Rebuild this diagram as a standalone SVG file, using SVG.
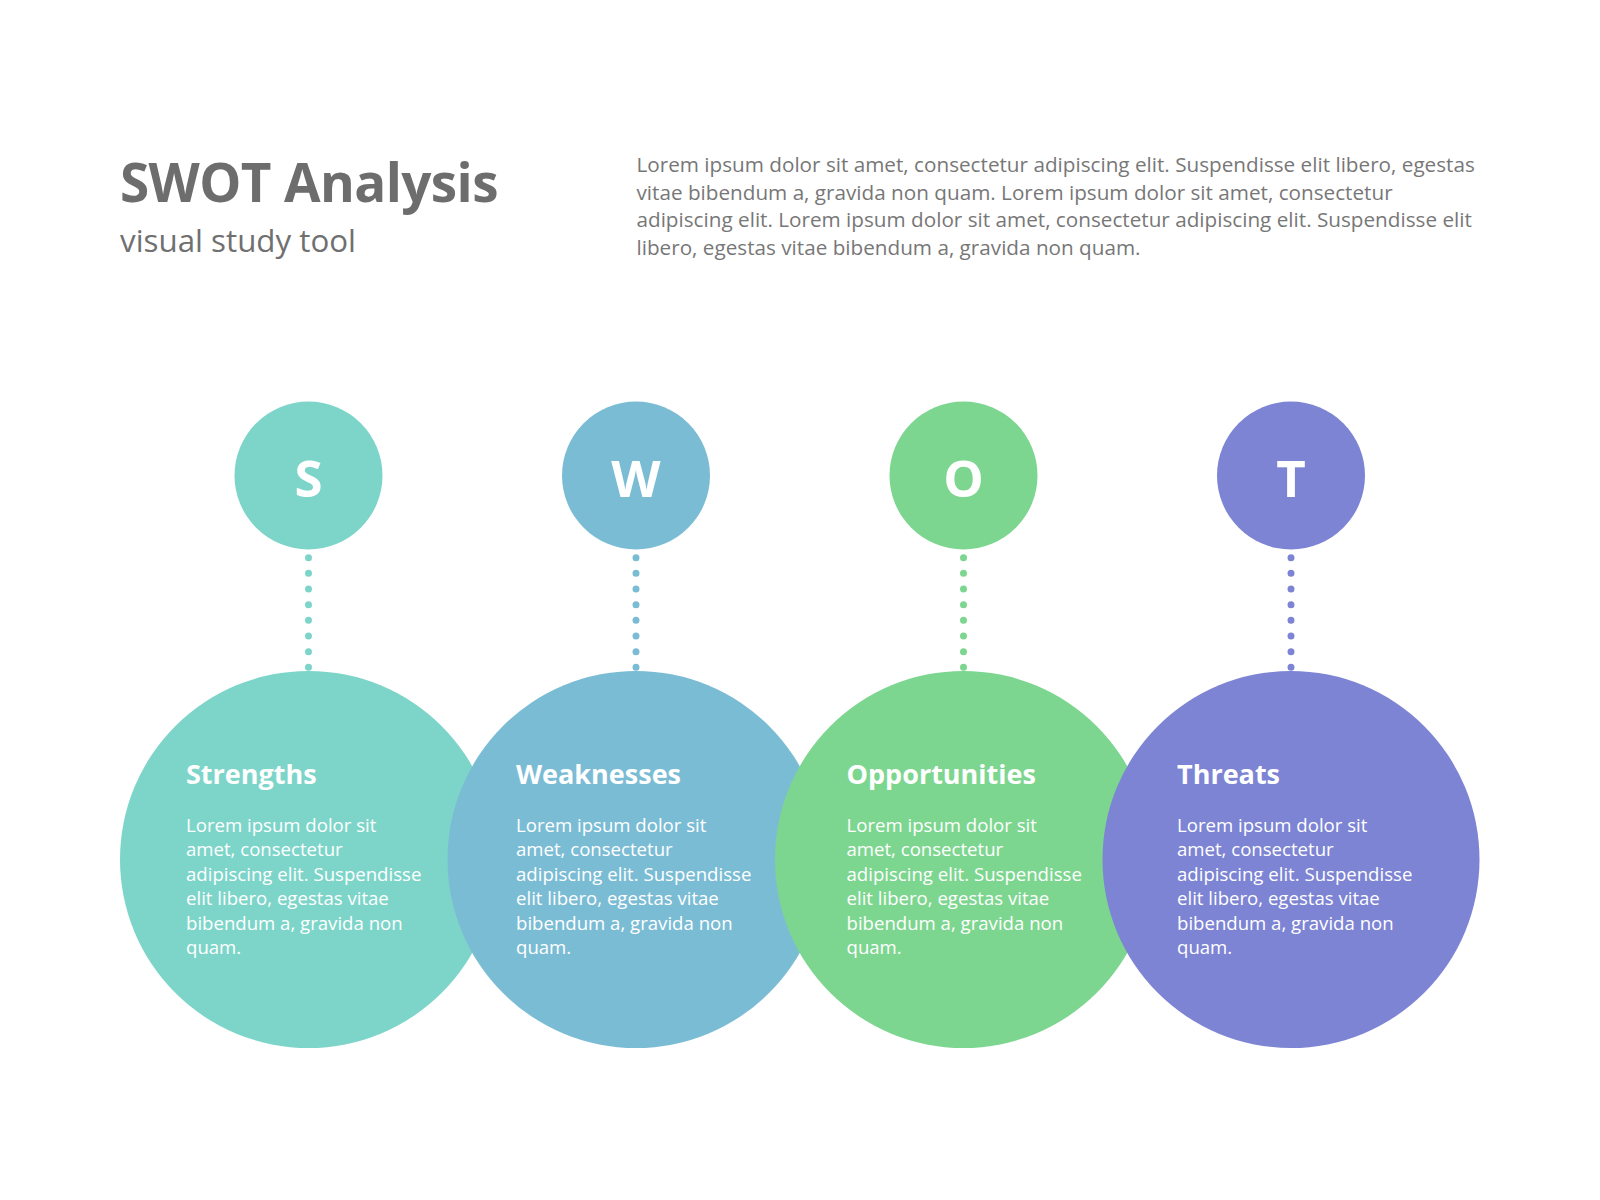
<svg xmlns="http://www.w3.org/2000/svg" width="1600" height="1200" viewBox="0 0 1600 1200">
<style>
.title{font-family:"Open Sans","Liberation Sans",sans-serif;font-weight:700;font-size:53px;letter-spacing:-0.6px;fill:#6d6d6d}
.sub{font-family:"Open Sans","Liberation Sans",sans-serif;font-size:31.3px;fill:#707070}
.para{font-family:"Open Sans","Liberation Sans",sans-serif;font-size:20.7px;fill:#777777}
.letter{font-family:"Open Sans","Liberation Sans",sans-serif;font-weight:700;font-size:51px;fill:#ffffff;text-anchor:middle}
.head{font-family:"Open Sans","Liberation Sans",sans-serif;font-weight:700;font-size:27px;fill:#ffffff}
.body{font-family:"Open Sans","Liberation Sans",sans-serif;font-size:18.6px;fill:#ffffff}
.dots{fill:none;stroke-width:7;stroke-linecap:round;stroke-dasharray:0 15.66}
.s{fill:#7dd5c9}.w{fill:#7bbcd5}.o{fill:#7dd68f}.t{fill:#7d84d4}
</style>
<rect width="1600" height="1200" fill="#ffffff"/>
<g id="header">
<text class="title" x="120" y="201.5">SWOT Analysis</text>
<text class="sub" x="120" y="251.5">visual study tool</text>
<text class="para" x="636.5" y="171.7">Lorem ipsum dolor sit amet, consectetur adipiscing elit. Suspendisse elit libero, egestas</text>
<text class="para" x="636.5" y="199.5">vitae bibendum a, gravida non quam. Lorem ipsum dolor sit amet, consectetur</text>
<text class="para" x="636.5" y="227.3">adipiscing elit. Lorem ipsum dolor sit amet, consectetur adipiscing elit. Suspendisse elit</text>
<text class="para" x="636.5" y="255.1">libero, egestas vitae bibendum a, gravida non quam.</text>
</g>
<g id="connectors">
<line class="dots" x1="308.5" y1="557.7" x2="308.5" y2="668" stroke="#7dd5c9"/>
<line class="dots" x1="636" y1="557.7" x2="636" y2="668" stroke="#7bbcd5"/>
<line class="dots" x1="963.5" y1="557.7" x2="963.5" y2="668" stroke="#7dd68f"/>
<line class="dots" x1="1291" y1="557.7" x2="1291" y2="668" stroke="#7d84d4"/>
</g>
<g id="node-s">
<circle class="s" cx="308.5" cy="475.5" r="74"/>
<text class="letter" x="308.5" y="497">S</text>
<circle class="s" cx="308.5" cy="859.5" r="188.5"/>
<text class="head" x="186" y="784">Strengths</text>
<text class="body" x="186" y="831.7">Lorem ipsum dolor sit</text>
<text class="body" x="186" y="856.2">amet, consectetur</text>
<text class="body" x="186" y="880.7">adipiscing elit. Suspendisse</text>
<text class="body" x="186" y="905.2">elit libero, egestas vitae</text>
<text class="body" x="186" y="929.7">bibendum a, gravida non</text>
<text class="body" x="186" y="954.2">quam.</text>
</g>
<g id="node-w">
<circle class="w" cx="636" cy="475.5" r="74"/>
<text class="letter" x="636" y="497">W</text>
<circle class="w" cx="636" cy="859.5" r="188.5"/>
<text class="head" x="516" y="784">Weaknesses</text>
<text class="body" x="516" y="831.7">Lorem ipsum dolor sit</text>
<text class="body" x="516" y="856.2">amet, consectetur</text>
<text class="body" x="516" y="880.7">adipiscing elit. Suspendisse</text>
<text class="body" x="516" y="905.2">elit libero, egestas vitae</text>
<text class="body" x="516" y="929.7">bibendum a, gravida non</text>
<text class="body" x="516" y="954.2">quam.</text>
</g>
<g id="node-o">
<circle class="o" cx="963.5" cy="475.5" r="74"/>
<text class="letter" x="963.5" y="497">O</text>
<circle class="o" cx="963.5" cy="859.5" r="188.5"/>
<text class="head" x="846.5" y="784">Opportunities</text>
<text class="body" x="846.5" y="831.7">Lorem ipsum dolor sit</text>
<text class="body" x="846.5" y="856.2">amet, consectetur</text>
<text class="body" x="846.5" y="880.7">adipiscing elit. Suspendisse</text>
<text class="body" x="846.5" y="905.2">elit libero, egestas vitae</text>
<text class="body" x="846.5" y="929.7">bibendum a, gravida non</text>
<text class="body" x="846.5" y="954.2">quam.</text>
</g>
<g id="node-t">
<circle class="t" cx="1291" cy="475.5" r="74"/>
<text class="letter" x="1291" y="497">T</text>
<circle class="t" cx="1291" cy="859.5" r="188.5"/>
<text class="head" x="1177" y="784">Threats</text>
<text class="body" x="1177" y="831.7">Lorem ipsum dolor sit</text>
<text class="body" x="1177" y="856.2">amet, consectetur</text>
<text class="body" x="1177" y="880.7">adipiscing elit. Suspendisse</text>
<text class="body" x="1177" y="905.2">elit libero, egestas vitae</text>
<text class="body" x="1177" y="929.7">bibendum a, gravida non</text>
<text class="body" x="1177" y="954.2">quam.</text>
</g>
</svg>
